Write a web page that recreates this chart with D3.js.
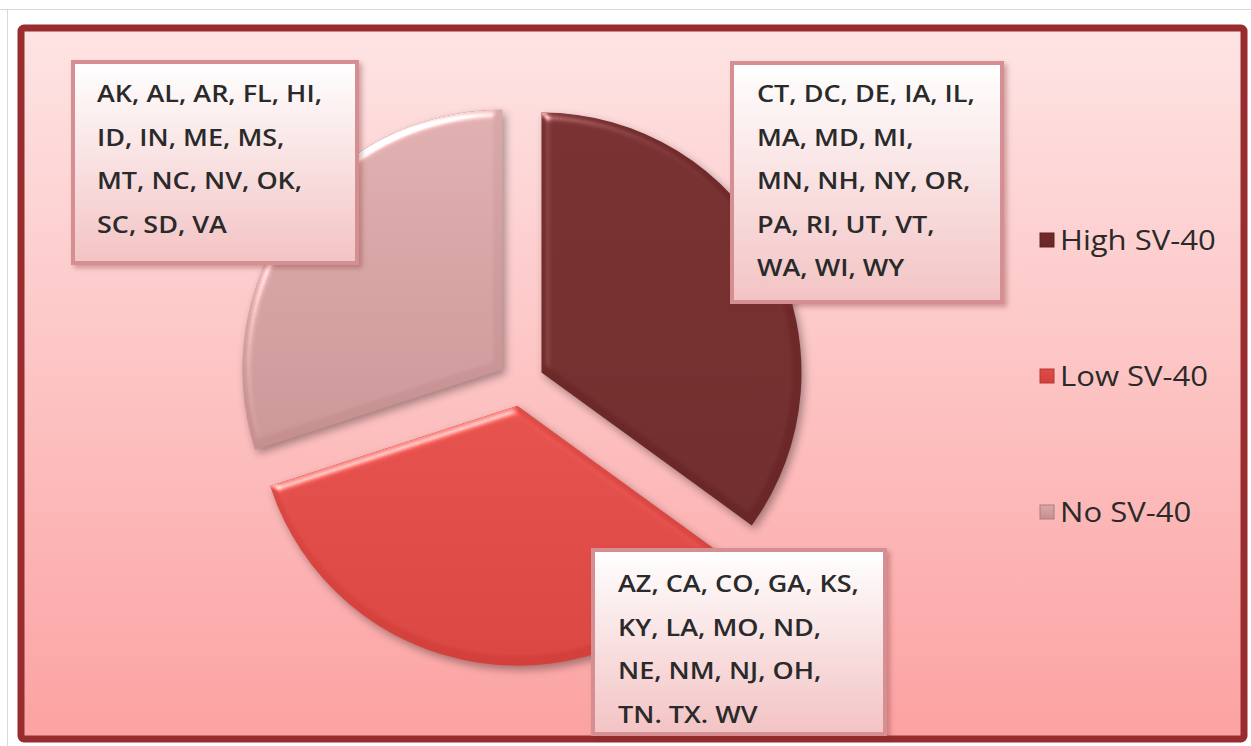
<!DOCTYPE html>
<html>
<head>
<meta charset="utf-8">
<script src="https://cdn.jsdelivr.net/npm/d3@7"></script>
<style>
  html, body { margin: 0; padding: 0; background: #fff; }
  svg { display: block; }
  text { font-family: "Open Sans", Lato, sans-serif; }
</style>
</head>
<body>
<div id="chart"></div>
<script>
const categories = ['High SV-40', 'Low SV-40', 'No SV-40'];
const shares = [35, 35, 30];

// state lists shown in the callout boxes, one entry per line
const highStates = ['CT, DC, DE, IA, IL,', 'MA, MD, MI,', 'MN, NH, NY, OR,', 'PA, RI, UT, VT,', 'WA, WI, WY'];
const lowStates = ['AZ, CA, CO, GA, KS,', 'KY, LA, MO, ND,', 'NE, NM, NJ, OH,', 'TN. TX. WV'];
const noStates = ['AK, AL, AR, FL, HI,', 'ID, IN, ME, MS,', 'MT, NC, NV, OK,', 'SC, SD, VA'];

const width = 1251,
      height = 746;

const cx = 521, cy = 383,
      radius = 260,
      explode = 23;

const color = d3.scaleOrdinal()
  .domain(categories)
  .range(['#6a2727', '#d3403c', '#c58f90']);
const colorLight = d3.scaleOrdinal()
  .domain(categories)
  .range(['#722a2a', '#df4b47', '#d9a9a9']);

const svg = d3.select('#chart')
  .append('svg')
  .attr('width', width)
  .attr('height', height);

const defs = svg.append('defs');

// chart area background
const bg = defs.append('linearGradient')
  .attr('id', 'bgGrad')
  .attr('x1', 0).attr('y1', 0).attr('x2', 0).attr('y2', 1);
bg.append('stop').attr('offset', '0%').attr('stop-color', '#fee4e4');
bg.append('stop').attr('offset', '100%').attr('stop-color', '#fca2a2');

// callout box fill
const boxGrad = defs.append('linearGradient')
  .attr('id', 'boxGrad')
  .attr('x1', 0).attr('y1', 0).attr('x2', 0).attr('y2', 1);
boxGrad.append('stop').attr('offset', '0%').attr('stop-color', '#ffffff');
boxGrad.append('stop').attr('offset', '100%').attr('stop-color', '#f3c3c4');

categories.forEach((c, i) => {
  const g = defs.append('linearGradient')
    .attr('id', 'slice' + i)
    .attr('x1', 0).attr('y1', 0).attr('x2', 0).attr('y2', 1);
  g.append('stop').attr('offset', '0%').attr('stop-color', colorLight(c));
  g.append('stop').attr('offset', '100%').attr('stop-color', color(c));
});

// soft bevel + shadow for the slices
const bevel = defs.append('filter')
  .attr('id', 'bevel')
  .attr('color-interpolation-filters', 'sRGB')
  .attr('x', '-10%').attr('y', '-10%').attr('width', '130%').attr('height', '130%');
bevel.append('feGaussianBlur')
  .attr('in', 'SourceAlpha').attr('stdDeviation', 4).attr('result', 'blur');
bevel.append('feSpecularLighting')
  .attr('in', 'blur').attr('surfaceScale', 4).attr('specularConstant', 0.6)
  .attr('specularExponent', 30).attr('lighting-color', '#ffffff').attr('result', 'spec')
  .append('feDistantLight').attr('azimuth', 235).attr('elevation', 40);
bevel.append('feComposite')
  .attr('in', 'spec').attr('in2', 'SourceAlpha').attr('operator', 'in').attr('result', 'specIn');
bevel.append('feOffset')
  .attr('in', 'blur').attr('dx', 3).attr('dy', 4).attr('result', 'offBlur');
bevel.append('feComponentTransfer')
  .attr('in', 'offBlur').attr('result', 'shadow')
  .append('feFuncA').attr('type', 'linear').attr('slope', 0.35);
bevel.append('feComposite')
  .attr('in', 'SourceGraphic').attr('in2', 'specIn')
  .attr('operator', 'arithmetic').attr('k2', 1).attr('k3', 1).attr('result', 'lit');
const bm = bevel.append('feMerge');
bm.append('feMergeNode').attr('in', 'shadow');
bm.append('feMergeNode').attr('in', 'lit');

const boxShadow = defs.append('filter')
  .attr('id', 'boxShadow')
  .attr('color-interpolation-filters', 'sRGB')
  .attr('x', '-10%').attr('y', '-10%').attr('width', '130%').attr('height', '130%');
boxShadow.append('feDropShadow')
  .attr('dx', 3).attr('dy', 3).attr('stdDeviation', 2.5)
  .attr('flood-color', '#7a2a2a').attr('flood-opacity', 0.35);

// faint outer frame of the picture
svg.append('line')
  .attr('x1', 0).attr('x2', width).attr('y1', 9.5).attr('y2', 9.5)
  .attr('stroke', '#d9d9d9').attr('stroke-width', 1);
svg.append('line')
  .attr('x1', 7.5).attr('x2', 7.5).attr('y1', 9).attr('y2', height)
  .attr('stroke', '#d9d9d9').attr('stroke-width', 1);

// chart area
svg.append('rect')
  .attr('x', 21).attr('y', 28)
  .attr('width', 1223).attr('height', 711)
  .attr('rx', 3)
  .attr('fill', 'url(#bgGrad)')
  .attr('stroke', '#982c2f')
  .attr('stroke-width', 7);

// pie
const pie = d3.pie().sort(null).value(d => d.value);
const arc = d3.arc().innerRadius(0).outerRadius(radius);

const pieData = pie(categories.map((c, i) => ({ name: c, value: shares[i] })));

const slices = svg.append('g')
  .attr('transform', `translate(${cx},${cy})`);

slices.selectAll('path')
  .data(pieData)
  .enter()
  .append('path')
  .attr('d', arc)
  .attr('transform', d => {
    const mid = (d.startAngle + d.endAngle) / 2;
    return `translate(${explode * Math.sin(mid)},${-explode * Math.cos(mid)})`;
  })
  .attr('fill', (d, i) => `url(#slice${i})`)
  .attr('filter', 'url(#bevel)');

// callout boxes
const boxes = [
  { lines: highStates, x: 732, y: 63, w: 270, h: 239, tx: 757, ty: 102 },
  { lines: lowStates, x: 593, y: 550, w: 292, h: 184, tx: 618, ty: 592 },
  { lines: noStates, x: 73, y: 62, w: 284, h: 201, tx: 97, ty: 102 }
];
const lineGap = 43.5;

const box = svg.selectAll('g.box')
  .data(boxes)
  .enter()
  .append('g')
  .attr('class', 'box');

box.append('rect')
  .attr('x', d => d.x).attr('y', d => d.y)
  .attr('width', d => d.w).attr('height', d => d.h)
  .attr('fill', 'url(#boxGrad)')
  .attr('stroke', '#d58e91')
  .attr('stroke-width', 4)
  .attr('filter', 'url(#boxShadow)');

// the source picture is stretched sideways, so the text is too
box.each(function(d) {
  d3.select(this).selectAll('text')
    .data(d.lines)
    .enter()
    .append('text')
    .attr('transform', (t, i) => `translate(${d.tx},${d.ty + i * lineGap}) scale(1.2,1)`)
    .attr('font-size', 22.5)
    .attr('font-weight', 600)
    .attr('fill', '#2a2a2a')
    .text(t => t);
});

// legend
const legendY = d3.scalePoint()
  .domain(categories)
  .range([240, 512]);

const legend = svg.selectAll('g.legend')
  .data(categories)
  .enter()
  .append('g')
  .attr('class', 'legend')
  .attr('transform', d => `translate(1040,${legendY(d)})`);

legend.append('rect')
  .attr('x', 0).attr('y', -7)
  .attr('width', 14).attr('height', 14)
  .attr('fill', (d, i) => `url(#slice${i})`)
  .attr('stroke', d => d3.color(color(d)).darker(0.4))
  .attr('stroke-width', 1);

legend.append('text')
  .attr('transform', 'translate(20,0) scale(1.13,1)')
  .attr('dy', '0.36em')
  .attr('font-size', 27.5)
  .attr('fill', '#2a2a2a')
  .text(d => d);
</script>
</body>
</html>
